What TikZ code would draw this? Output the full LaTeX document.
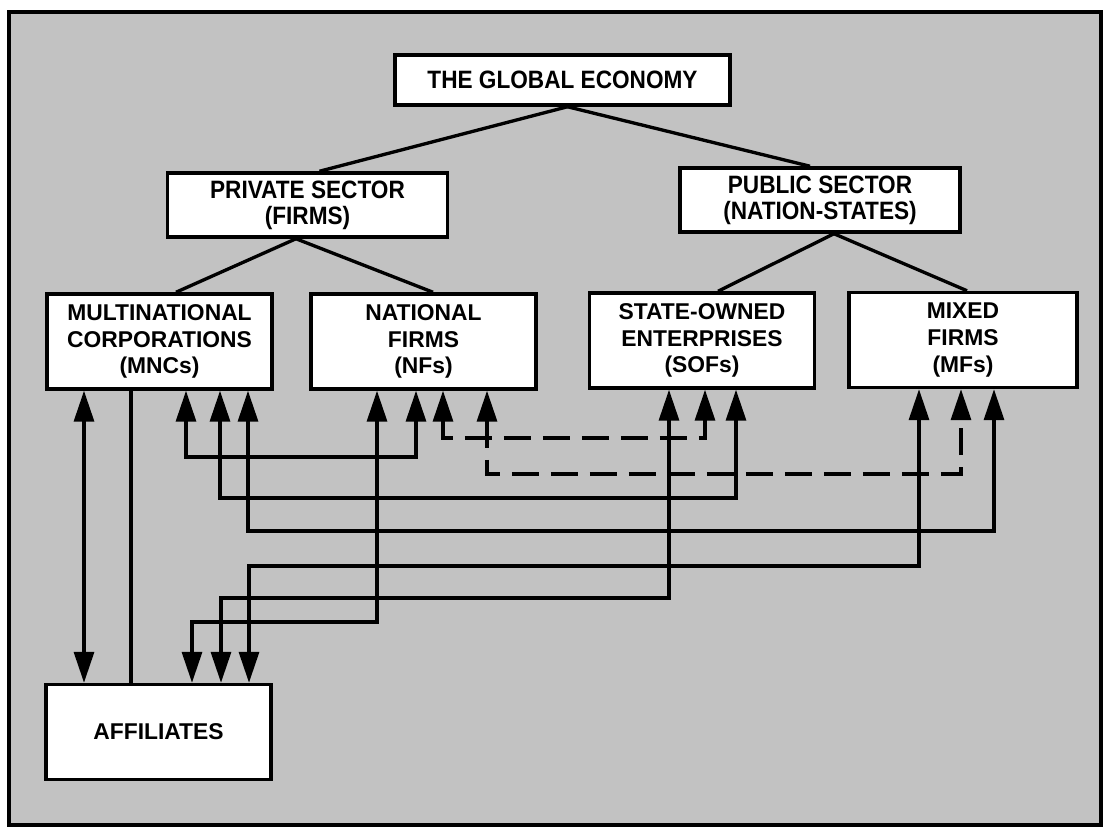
\documentclass[tikz,border=0pt]{standalone}
\usepackage{fontspec}
\setmainfont{Liberation Sans}
\newfontfamily\narrowsans[FakeStretch=0.9]{Liberation Sans}
\usepackage{tikz}
\usetikzlibrary{arrows.meta,calc}
\usepackage{xcolor}
\definecolor{geback}{HTML}{C2C2C2}

\begin{document}
\begin{tikzpicture}[
    x=0.02cm, y=-0.02cm,
    >={Triangle[length=0.62cm, width=0.4cm]},
    box/.style={draw, fill=white, line width=2pt, align=center, inner sep=0pt,
                minimum width=4.5cm, minimum height=1.9cm,
                font=\bfseries\fontsize{13}{15.2}\selectfont},
    topbox/.style={box, minimum width=5.6cm, minimum height=1.28cm,
                   font=\narrowsans\bfseries\fontsize{14.3}{14.8}\selectfont},
    tree/.style={line width=1.9pt},
    arr/.style={<->, line width=1.9pt},
    dasharr/.style={arr, dash pattern=on 0.54cm off 0.24cm},
  ]
  \useasboundingbox (0,0) rectangle (1103,827);
  \draw[line width=2.2pt, fill=geback] (9,12) rectangle (1101,825);

  % Boxes
  \node[topbox, minimum width=6.7cm, minimum height=1cm] (econ) at (562.5,80) {THE GLOBAL ECONOMY};
  \node[topbox] (priv) at (307.5,205) {PRIVATE SECTOR\\(FIRMS)};
  \node[topbox] (pub)  at (820,200)   {PUBLIC SECTOR\\(NATION-STATES)};
  \node[box] (mnc) at (159.5,341.5) {MULTINATIONAL\\CORPORATIONS\\(MNCs)};
  \node[box] (nf)  at (423.5,341.5) {NATIONAL\\FIRMS\\(NFs)};
  \node[box] (soe) at (702,340.5)   {STATE-OWNED\\ENTERPRISES\\(SOFs)};
  \node[box, minimum width=4.56cm] (mf) at (963,340) {MIXED\\FIRMS\\(MFs)};
  \node[box] (aff) at (158.5,732)   {AFFILIATES};

  % Tree
  \coordinate (econB) at ($(econ.south)+(5,0)$);
  \coordinate (privB) at ($(priv.south)+(-11.5,0)$);
  \coordinate (pubB)  at ($(pub.south)+(14,0)$);
  \draw[tree] (econB) -- ($(priv.north)+(12,0)$);
  \draw[tree] (econB) -- ($(pub.north)+(-10,0)$);
  \draw[tree] (privB) -- ($(mnc.north)+(16.5,0)$);
  \draw[tree] (privB) -- ($(nf.north)+(9.5,0)$);
  \draw[tree] (pubB) -- ($(soe.north)+(16,0)$);
  \draw[tree] (pubB) -- ($(mf.north)+(4,0)$);

  % MNCs and affiliates
  \draw[arr] (84,0 |- mnc.south) -- (84,0 |- aff.north);
  \draw[tree] (131,0 |- mnc.south) -- (131,0 |- aff.north);

  % Links between firms
  \draw[arr] (186,0 |- mnc.south) -- (186,457) -| (416,0 |- nf.south);
  \draw[arr] (220,0 |- mnc.south) -- (220,498) -| (736,0 |- soe.south);
  \draw[arr] (248,0 |- mnc.south) -- (248,531) -| (994,0 |- mf.south);
  \draw[dasharr] (443,0 |- nf.south) -- (443,438) -| (705,0 |- soe.south);
  \draw[dasharr] (487,0 |- nf.south) -- (487,474) -| (961,0 |- mf.south);

  % Links down to affiliates
  \draw[arr] (377,0 |- nf.south) -- (377,622) -| (192,0 |- aff.north);
  \draw[arr] (669,0 |- soe.south) -- (669,598) -| (221,0 |- aff.north);
  \draw[arr] (919,0 |- mf.south) -- (919,566) -| (249,0 |- aff.north);
\end{tikzpicture}
\end{document}
